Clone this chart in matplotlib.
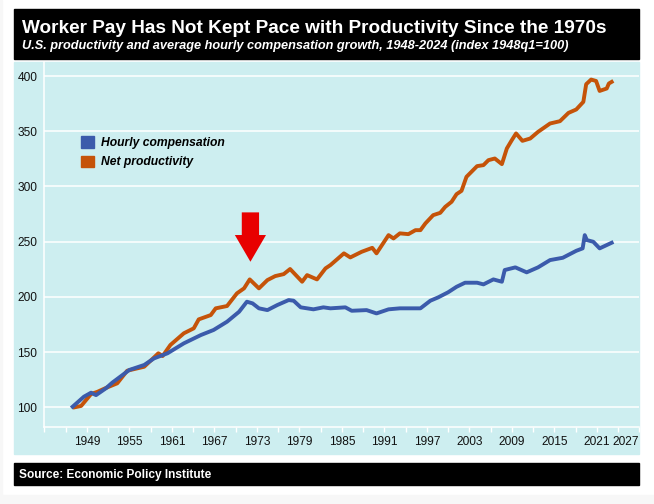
import numpy as np
import matplotlib.pyplot as plt
from matplotlib.patches import Rectangle, Patch

# data (index 1948q1 = 100)
comp_years = [1948.0, 1949.6, 1950.6, 1951.3, 1952.7, 1953.6, 1956.0, 1958.1, 1959.5, 1961.4,
              1963.7, 1966.1, 1967.9, 1969.8, 1971.5, 1972.6, 1973.4, 1974.3, 1975.5, 1976.9,
              1978.5, 1979.2, 1980.2, 1982.0, 1983.4, 1984.4, 1986.5, 1987.4, 1989.5, 1990.9,
              1992.6, 1994.2, 1997.1, 1998.5, 1999.6, 2001.0, 2002.2, 2003.4, 2005.1, 2006.0,
              2007.4, 2008.6, 2009.0, 2010.5, 2012.1, 2013.7, 2015.4, 2017.2, 2019.1, 2020.0,
              2020.3, 2020.6, 2021.5, 2022.4, 2024.1]
comp_vals = [100.5, 109.6, 113.2, 111.0, 117.2, 122.3, 133.8, 138.3, 144.3, 148.9,
             157.9, 165.4, 170.0, 177.5, 186.5, 195.6, 194.1, 189.6, 188.0, 192.6,
             197.1, 196.5, 190.5, 188.7, 190.5, 189.6, 190.5, 187.4, 188.0, 185.0,
             188.7, 189.6, 189.6, 196.5, 199.5, 204.1, 209.1, 212.8, 212.8, 211.3,
             215.8, 213.7, 224.3, 226.7, 222.2, 226.7, 233.3, 235.4, 241.7, 243.9,
             255.9, 251.4, 249.9, 243.9, 249.0]

prod_years = [1948.3, 1949.2, 1949.9, 1950.6, 1951.5, 1952.7, 1954.3, 1955.7, 1958.1, 1959.5,
              1960.1, 1960.7, 1961.8, 1963.7, 1965.1, 1965.8, 1967.5, 1968.2, 1969.8, 1971.2,
              1972.2, 1973.0, 1974.3, 1975.5, 1976.6, 1977.8, 1978.7, 1980.4, 1981.1, 1982.5,
              1983.7, 1984.4, 1986.3, 1987.2, 1988.8, 1990.3, 1990.9, 1992.6, 1993.3, 1994.2,
              1995.4, 1996.4, 1997.1, 1997.8, 1998.9, 1999.9, 2000.6, 2001.5, 2002.2, 2002.9,
              2003.6, 2005.1, 2006.0, 2006.7, 2007.6, 2008.6, 2009.3, 2010.0, 2010.6, 2011.5,
              2012.6, 2013.7, 2015.4, 2016.8, 2018.0, 2019.1, 2020.1, 2020.5, 2021.2, 2021.9,
              2022.4, 2023.4, 2023.7, 2024.1]
prod_vals = [100.0, 101.2, 106.6, 112.0, 114.0, 117.5, 121.7, 133.1, 136.7, 145.2,
             148.9, 146.4, 156.4, 167.0, 171.5, 179.6, 183.5, 189.6, 191.7, 203.2,
             207.7, 215.8, 207.7, 215.2, 218.8, 220.6, 225.2, 213.7, 219.7, 215.8,
             225.8, 228.8, 239.4, 235.7, 240.8, 244.4, 239.4, 255.9, 252.9, 257.5,
             256.8, 260.4, 260.4, 266.5, 274.0, 276.1, 281.5, 286.1, 293.0, 296.0,
             308.7, 318.4, 319.3, 323.8, 325.3, 320.2, 334.4, 341.9, 348.0, 341.3,
             343.4, 349.4, 357.0, 359.1, 366.6, 369.7, 376.6, 392.6, 396.8, 395.5,
             386.5, 388.7, 393.2, 394.7]

tick_labels = ['1949', '1955', '1961', '1967', '1973', '1979', '1985', '1991',
               '1997', '2003', '2009', '2015', '2021', '2027']
y_ticks = [100, 150, 200, 250, 300, 350, 400]

blue = '#3b5bab'
orange = '#c55309'
panel = '#cdeef0'

plt.rcParams['font.family'] = ['Liberation Sans', 'DejaVu Sans']

fig = plt.figure(figsize=(6.54, 5.04), dpi=100)
W, H = 654.0, 504.0

# background blocks (pixel boxes -> figure fractions)
def box(x0, y0, x1, y1, color):
    fig.patches.append(Rectangle((x0 / W, 1 - y1 / H), (x1 - x0) / W, (y1 - y0) / H,
                                 transform=fig.transFigure, color=color, zorder=-10))

box(0, 494.5, 654, 504, '#f7f7f7')
box(0, 0, 2, 504, '#f7f7f7')
box(14, 9, 639, 59, 'black')
box(14, 62, 639, 454, panel)
box(14, 463.3, 639, 485, 'black')

fig.text(22.5 / W, 1 - 33 / H, 'Worker Pay Has Not Kept Pace with Productivity Since the 1970s',
         color='white', fontsize=13.65, fontweight='bold', va='baseline')
fig.text(22.5 / W, 1 - 49.5 / H,
         'U.S. productivity and average hourly compensation growth, 1948-2024 (index 1948q1=100)',
         color='white', fontsize=9.15, fontweight='bold', style='italic', va='baseline')
fig.text(19.3 / W, 1 - 477.7 / H, 'Source: Economic Policy Institute',
         color='white', fontsize=8.55, fontweight='bold', va='baseline')

ax = fig.add_axes([44.3 / W, 1 - 426.7 / H, (639.3 - 44.3) / W, (426.7 - 62) / H])
ax.set_facecolor(panel)

ax.plot(prod_years, prod_vals, color=orange, lw=2.8, solid_joinstyle='round', zorder=3)
ax.plot(comp_years, comp_vals, color=blue, lw=2.8, solid_joinstyle='round', zorder=4)

# x positions of labelled ticks (the chart places "1949" one year right of the 1948 start)
tick_pos = [int(t) + 1 for t in tick_labels]
ax.set_xlim(1944.2, 2028.0)
ax.set_ylim(82.4, 412.7)
ax.set_xticks(tick_pos)
ax.set_xticklabels(tick_labels)
ax.set_xticks(np.arange(1944, 2029, 3), minor=True)
ax.set_yticks(y_ticks)
ax.xaxis.get_ticklabels()[-1].set_horizontalalignment('right')

ax.grid(axis='y', color='white', lw=1.1)
ax.set_axisbelow(True)
for s in ['top', 'right']:
    ax.spines[s].set_visible(False)
for s in ['left', 'bottom']:
    ax.spines[s].set_color('white')
    ax.spines[s].set_linewidth(1.1)
ax.tick_params(axis='x', which='both', colors='white', length=3.5, width=1, labelcolor='#111111',
               labelsize=8.6, pad=3.5)
ax.tick_params(axis='y', length=0, labelcolor='#111111', labelsize=8.6, pad=5)

# red arrow pointing at the early-1970s divergence
ax.arrow(1973.1, 276.5, 0, -44.7, width=2.44, head_width=4.4, head_length=24.2,
         length_includes_head=True, color='#e80000', lw=0, zorder=5)

handles = [Patch(color=blue, label='Hourly compensation'),
           Patch(color=orange, label='Net productivity')]
ax.legend(handles=handles, loc='upper left', bbox_to_anchor=(80.7 / W, 1 - 136 / H),
          bbox_transform=fig.transFigure, frameon=False, handlelength=1.1, handleheight=1.1,
          handletextpad=0.55, labelspacing=0.55, borderaxespad=0, borderpad=0,
          prop={'size': 8.7, 'weight': 'bold', 'style': 'italic'})

fig.savefig('out.png', dpi=100)
